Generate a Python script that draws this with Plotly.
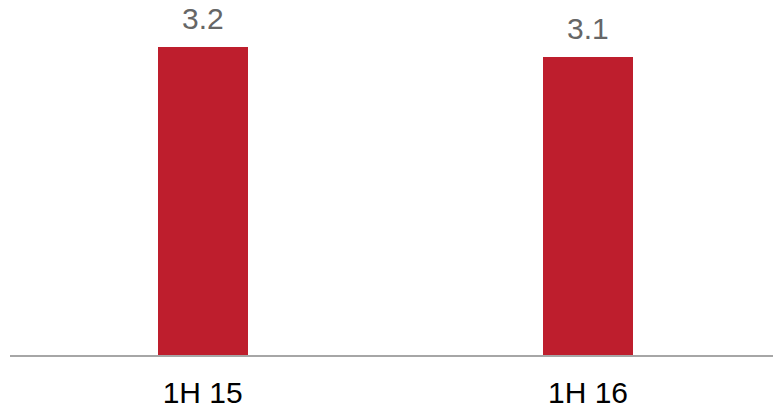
import plotly.graph_objects as go

periods = ["1H 15", "1H 16"]
values = [3.2, 3.1]

bar_color = "#BE1E2D"
label_font = "Liberation Sans, Arial, sans-serif"

fig = go.Figure(
    go.Bar(
        x=periods,
        y=values,
        marker=dict(color=bar_color, line=dict(width=0)),
        width=0.234,
        hoverinfo="skip",
    )
)

for p, v in zip(periods, values):
    fig.add_annotation(
        x=p, y=v, text=f"{v:.1f}", showarrow=False,
        yanchor="bottom", yshift=10,
        font=dict(family=label_font, size=30, color="#666666"),
    )

fig.update_layout(
    width=773, height=408,
    margin=dict(l=10, r=0, t=0, b=53),
    paper_bgcolor="white", plot_bgcolor="white",
    showlegend=False,
    bargap=0,
)
fig.update_xaxes(
    type="category", range=[-0.5, 1.48], automargin=False,
    showline=True, linecolor="#A6A6A6", linewidth=2,
    showgrid=False, ticks="", ticklabelstandoff=10,
    tickfont=dict(family=label_font, size=30, color="#000000"),
)
fig.update_yaxes(
    range=[0, 3.688], visible=False, showgrid=False, zeroline=False,
)

fig.write_html("out.html")
